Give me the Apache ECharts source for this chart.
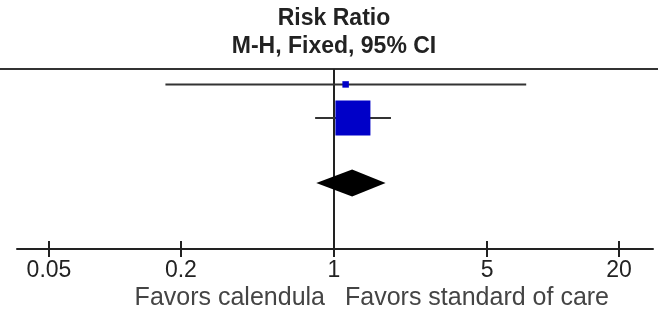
<!DOCTYPE html>
<html>
<head>
<meta charset="utf-8">
<script src="https://cdn.jsdelivr.net/npm/echarts@6/dist/echarts.min.js"></script>
<style>
html,body{margin:0;padding:0;background:#fff}
#chart{width:658px;height:313px}
</style>
</head>
<body>
<div id="chart"></div>
<script>
// studies: risk ratio, 95% CI, weight (%), row on the plot
const studyNames = ['Study 1', 'Study 2'];
const studyRR = [1.13, 1.22];
const studyLower = [0.17, 0.82];
const studyUpper = [7.54, 1.82];
const studyWeight = [3.3, 96.7];
const studyRow = [0.46, 1.46];

// pooled (fixed effect)
const totalRR = 1.21;
const totalLower = 0.83;
const totalUpper = 1.72;
const totalRow = 3.4;

// log axis ticks
const tickValues = [0.05, 0.2, 1, 5, 20];
const tickLabels = ['0.05', '0.2', '1', '5', '20'];

const FONT = '"Liberation Sans", Arial, sans-serif';
const lg = v => Math.log10(v);

// axis range a bit wider than the ticks (line runs past 0.05 and 20)
const xMin = lg(0.05) - 0.14608;
const xMax = lg(20) + 0.15521;

const studyData = studyRR.map((rr, i) => ({
  name: studyNames[i],
  value: [lg(rr), lg(studyLower[i]), lg(studyUpper[i]), studyRow[i], studyWeight[i]]
}));
const totalData = [[lg(totalRR), lg(totalLower), lg(totalUpper), totalRow]];

function renderStudy(params, api) {
  const y = api.value(3);
  const c = api.coord([api.value(0), y]);
  const l = api.coord([api.value(1), y]);
  const u = api.coord([api.value(2), y]);
  const side = Math.sqrt(api.value(4)) * 3.56;
  return {
    type: 'group',
    children: [
      {type: 'line', shape: {x1: l[0], y1: l[1], x2: u[0], y2: u[1]}, style: {stroke: '#333', lineWidth: 2}},
      {type: 'rect', shape: {x: c[0] - side / 2, y: c[1] - side / 2, width: side, height: side}, style: {fill: '#0000c8'}}
    ]
  };
}

function renderDiamond(params, api) {
  const y = api.value(3);
  const c = api.coord([api.value(0), y]);
  const l = api.coord([api.value(1), y]);
  const u = api.coord([api.value(2), y]);
  const h = 27;
  return {
    type: 'polygon',
    shape: {points: [[l[0], c[1]], [c[0], c[1] - h / 2], [u[0], c[1]], [c[0], c[1] + h / 2]]},
    style: {fill: '#000'}
  };
}

const labelOf = v => {
  let best = 0;
  tickValues.forEach((t, i) => { if (Math.abs(lg(t) - v) < Math.abs(lg(tickValues[best]) - v)) best = i; });
  return tickLabels[best];
};

const chart = echarts.init(document.getElementById('chart'), null, {renderer: 'canvas'});
chart.setOption({
  animation: false,
  backgroundColor: '#fff',
  textStyle: {fontFamily: FONT},
  grid: [
    {left: 17, right: 5, top: 69, bottom: 64},
    {left: 0, right: 0, top: 69, height: 1}
  ],
  xAxis: [
    {
      type: 'value', gridIndex: 0, min: xMin, max: xMax, position: 'bottom',
      axisLine: {show: true, onZero: false, lineStyle: {color: '#222', width: 2}},
      axisTick: {show: true, length: 8, customValues: tickValues.map(lg), lineStyle: {color: '#222', width: 2}},
      axisLabel: {show: true, customValues: tickValues.map(lg), formatter: labelOf, margin: 10,
        color: '#222', fontSize: 23, fontFamily: FONT},
      splitLine: {show: false}
    },
    {
      type: 'value', gridIndex: 0, min: xMin, max: xMax, position: 'bottom',
      axisLine: {show: false, onZero: false},
      axisTick: {show: true, inside: true, length: 8, customValues: tickValues.map(lg), lineStyle: {color: '#222', width: 2}},
      axisLabel: {show: false},
      splitLine: {show: false}
    },
    {
      type: 'value', gridIndex: 1, min: 0, max: 1, position: 'top',
      axisLine: {show: true, onZero: false, lineStyle: {color: '#333', width: 2}},
      axisTick: {show: false}, axisLabel: {show: false}, splitLine: {show: false}
    }
  ],
  yAxis: [
    {type: 'value', gridIndex: 0, min: 0, max: 5.37, inverse: true, show: false},
    {type: 'value', gridIndex: 1, min: 0, max: 1, show: false}
  ],
  series: [
    {
      type: 'custom', xAxisIndex: 0, yAxisIndex: 0,
      renderItem: renderStudy,
      encode: {x: [0, 1, 2], y: 3},
      data: studyData,
      z: 3,
      markLine: {
        silent: true, symbol: 'none', label: {show: false},
        lineStyle: {color: '#222', width: 2, type: 'solid'},
        data: [{xAxis: lg(1)}],
        z: 2
      }
    },
    {
      type: 'custom', xAxisIndex: 0, yAxisIndex: 0,
      renderItem: renderDiamond,
      encode: {x: [0, 1, 2], y: 3},
      data: totalData,
      z: 4
    }
  ],
  graphic: [
    {type: 'text', x: 334, y: 19, style: {text: 'Risk Ratio', font: 'bold 23px ' + FONT, fill: '#222', align: 'center', verticalAlign: 'middle'}},
    {type: 'text', x: 334, y: 47, style: {text: 'M-H, Fixed, 95% CI', font: 'bold 23px ' + FONT, fill: '#222', align: 'center', verticalAlign: 'middle'}},
    {type: 'text', x: 325, y: 298, style: {text: 'Favors calendula', font: '25px ' + FONT, fill: '#444', align: 'right', verticalAlign: 'middle'}},
    {type: 'text', x: 345, y: 298, style: {text: 'Favors standard of care', font: '25px ' + FONT, fill: '#444', align: 'left', verticalAlign: 'middle'}}
  ]
});
</script>
</body>
</html>
